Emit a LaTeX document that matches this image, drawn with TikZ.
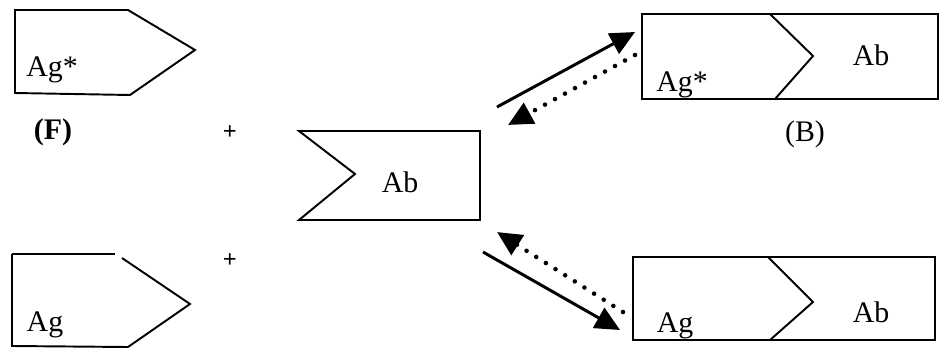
\documentclass[tikz,border=0pt]{standalone}
\usepackage{fontspec}
\setmainfont{Liberation Serif}
\usetikzlibrary{arrows.meta}

\begin{document}
\begin{tikzpicture}[x=0.02cm, y=-0.02cm, >={Triangle[length=14pt,width=13pt]},
  outline/.style={line width=1.1pt, line join=miter},
  lbl/.style={font=\fontsize{17}{20}\selectfont, inner sep=0pt},
  plus/.style={font=\fontsize{14}{16}\selectfont\bfseries, inner sep=0pt},
  dotline/.style={line width=2.6pt, line cap=round, dash pattern=on 0pt off 6.5pt}]
\useasboundingbox (0,0) rectangle (939,348);

% free antigen, labelled
\draw[outline] (15,10) -- (128,10) -- (195,50) -- (130,95) -- (15,93) -- cycle;
\node[lbl] (agstar) at (52,70) {Ag*};
\node[lbl, font=\fontsize{17}{20}\selectfont\bfseries] (free) at (53,132) {(F)};
\node[plus] (plus1) at (230,133) {+};

% free antigen, unlabelled
\draw[outline] (12,254) -- (115,254);
\draw[outline] (122,258) -- (190,304) -- (128,347) -- (12,346) -- (12,254);
\node[lbl] (ag) at (45,325) {Ag};
\node[plus] (plus2) at (230,261) {+};

% antibody
\draw[outline] (299,131) -- (480,131) -- (480,220) -- (299,220) -- (355,174) -- cycle;
\node[lbl] (ab) at (400,182) {Ab};

% bound complex, labelled
\draw[outline] (642,14) rectangle (938,99);
\draw[outline] (770,14) -- (813,56) -- (775,99);
\node[lbl] (bagstar) at (682,85) {Ag*};
\node[lbl] (bab) at (871,55) {Ab};
\node[lbl] (bound) at (805,134) {(B)};

% bound complex, unlabelled
\draw[outline] (633,257) rectangle (935,340);
\draw[outline] (768,257) -- (813,302) -- (770,340);
\node[lbl] (cag) at (675,326) {Ag};
\node[lbl] (cab) at (871,312) {Ab};

% reaction arrows
\coordinate (u1) at (497,107);
\coordinate (u2) at (635,32);
\coordinate (u3) at (635,55);
\coordinate (u4) at (508,125);
\coordinate (d1) at (483,252);
\coordinate (d2) at (620,330);
\coordinate (d3) at (623,312);
\coordinate (d4) at (497,232);

\draw[->, line width=1.7pt] (u1) -- (u2);
\draw[->, dotline] (u3) -- (u4);
\draw[->, line width=1.7pt] (d1) -- (d2);
\draw[->, dotline] (d3) -- (d4);
\end{tikzpicture}
\end{document}
